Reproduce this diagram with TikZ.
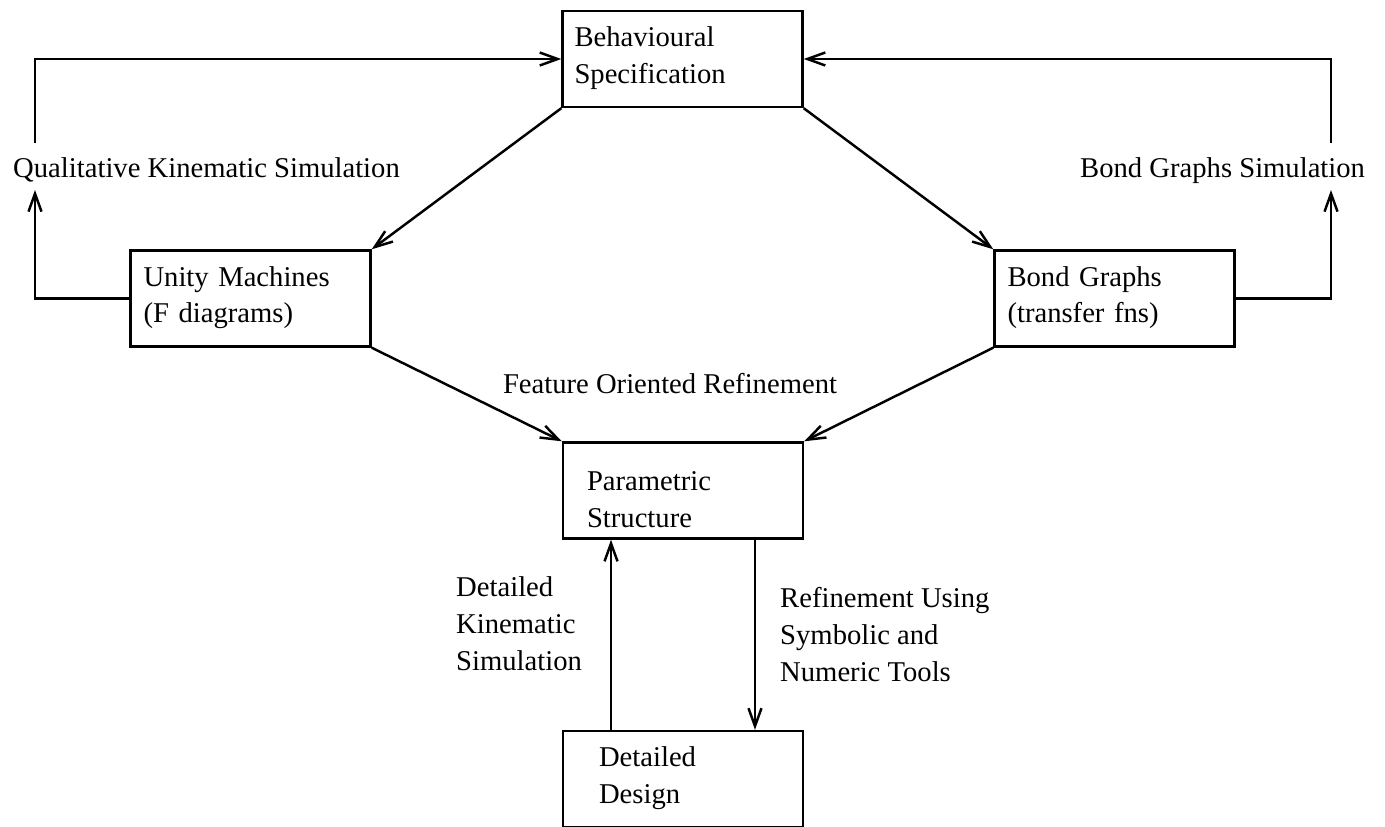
\documentclass[tikz,border=0pt]{standalone}
\usepackage{fontspec}
\setmainfont{Liberation Serif}
\usetikzlibrary{arrows.meta}

\begin{document}
\begin{tikzpicture}[x=0.02cm, y=-0.02cm, line width=1.4pt,
        font=\fontsize{16.3}{20.8}\selectfont,
        box/.style 2 args={draw, minimum width=4.8cm, minimum height=1.92cm,
            inner xsep=#1, text width=#2, align=left,
            text height=0.3cm, text depth=0.8cm},
        lbl/.style={inner sep=0pt, align=left},
        arr/.style={-{Straight Barb[length=0.36cm, width=0.26cm]}}]
    \useasboundingbox (0,0) rectangle (1385,827);

    % Boxes
    \node[box={0.24cm}{4.32cm}] (behav) at (682.5,59) {Behavioural\\Specification};
    \node[box={0.26cm}{4.28cm}] (unity) at (250.5,298.5) {Unity Machines\\(F diagrams)};
    \node[box={0.26cm}{4.28cm}] (bond) at (1114.5,298.5) {Bond Graphs\\(transfer fns)};
    \node[box={0.48cm}{3.84cm}, text height=0.53cm, text depth=0.53cm] (param) at (683,490.5) {Parametric\\Structure};
    \node[box={0.72cm}{3.36cm}] (detail) at (683,779) {Detailed\\Design};

    % Labels
    \node[lbl, anchor=base west] (qks) at (12,178) {Qualitative Kinematic Simulation};
    \node[lbl, anchor=base west] (bgs) at (1079,178) {Bond Graphs Simulation};
    \node[lbl, anchor=base] (fore) at (670,393) {Feature Oriented Refinement};
    \node[lbl, anchor=base west] (dks) at (455,670) {Detailed\\Kinematic\\Simulation};
    \node[lbl, anchor=base west] (rus) at (779,681) {Refinement Using\\Symbolic and\\Numeric Tools};

    % Feedback loops
    \coordinate (qkin) at (35,190);
    \coordinate (qkout) at (35,143);
    \coordinate (bgin) at (1331,190);
    \coordinate (bgout) at (1331,143);
    \draw[arr] (unity.west) -| (qkin);
    \draw[arr] (qkout) |- (behav.west);
    \draw[arr] (bond.east) -| (bgin);
    \draw[arr] (bgout) |- (behav.east);

    % Diagonals
    \draw[arr] (behav.south west) -- (unity.north east);
    \draw[arr] (behav.south east) -- (bond.north west);
    \draw[arr] (unity.south east) -- (param.north west);
    \draw[arr] (bond.south west) -- (param.north east);

    % Up and down
    \draw[arr] ([xshift=-1.44cm]detail.north) -- ([xshift=-1.44cm]param.south);
    \draw[arr] ([xshift=1.44cm]param.south) -- ([xshift=1.44cm]detail.north);
\end{tikzpicture}
\end{document}
